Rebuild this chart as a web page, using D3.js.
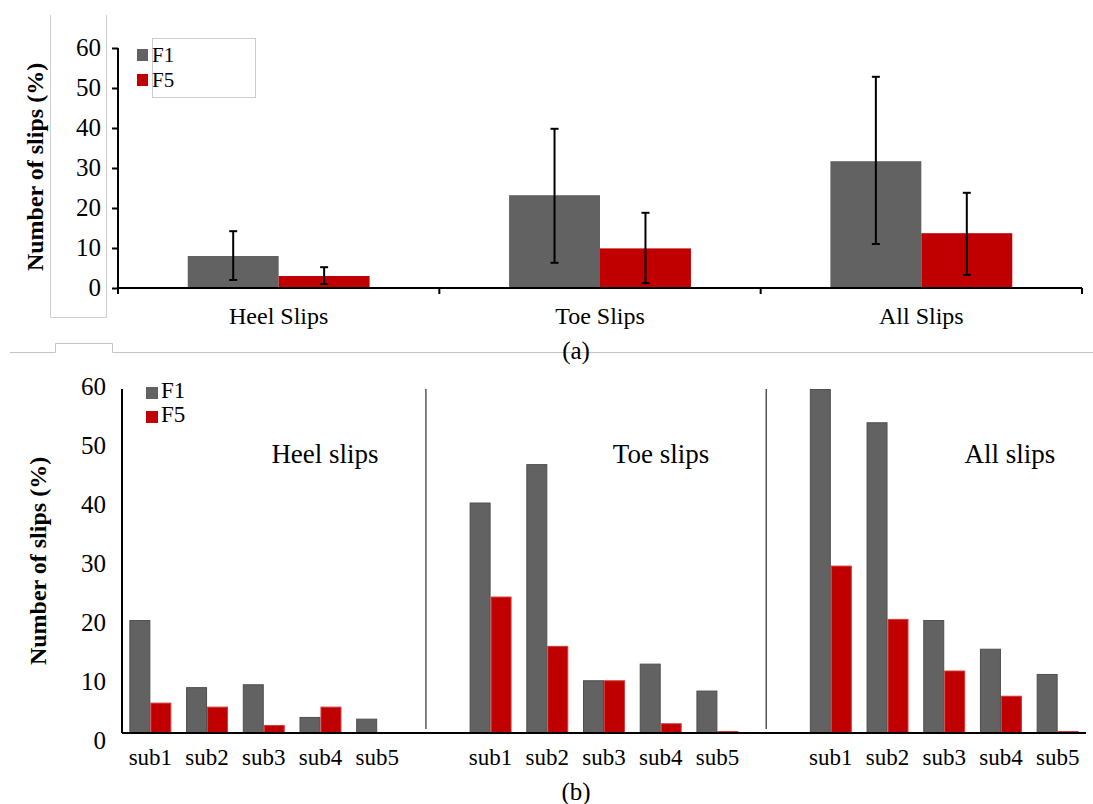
<!DOCTYPE html>
<html>
<head>
<meta charset="utf-8">
<script src="https://cdnjs.cloudflare.com/ajax/libs/d3/7.8.5/d3.min.js"></script>
<style>
  body { margin: 0; background: #fff; }
</style>
</head>
<body>
<svg id="chart" width="1093" height="804"></svg>
<script>
// ---- data, panel (a) ----
var topCategories = ["Heel Slips", "Toe Slips", "All Slips"];
var topF1 = [8, 23.2, 31.7];
var topF5 = [3, 9.9, 13.7];
var topF1Lo = [2, 6.3, 11];
var topF1Hi = [14.2, 39.8, 52.8];
var topF5Lo = [1, 1.2, 3.3];
var topF5Hi = [5.2, 18.8, 23.8];
var topTicks = [0, 10, 20, 30, 40, 50, 60];

// ---- data, panel (b) ----
var groups = ["Heel slips", "Toe slips", "All slips"];
var subjects = ["sub1", "sub2", "sub3", "sub4", "sub5"];
var heelF1 = [19.7, 8.0, 8.5, 2.8, 2.5];
var heelF5 = [5.3, 4.6, 1.4, 4.6, 0];
var toeF1 = [40.2, 46.9, 9.2, 12.1, 7.4];
var toeF5 = [23.8, 15.2, 9.2, 1.7, 0.2];
var allF1 = [60, 54.2, 19.7, 14.7, 10.3];
var allF5 = [29.2, 19.9, 10.9, 6.5, 0.2];
var bottomTicks = [0, 10, 20, 30, 40, 50, 60];

var series = ["F1", "F5"];
var colors = { F1: "#626262", F5: "#c00000" };
var serif = "'Liberation Serif', 'Times New Roman', Times, serif";

var svg = d3.select("#chart");

// faint frame leftovers from the composite figure
var frame = svg.append("g").attr("fill", "none").attr("stroke", "#cfcfcf").attr("stroke-width", 1);
frame.append("path").attr("d", "M50.5,15V317.5H106.5V15");
frame.append("path").attr("stroke", "#c4c4c4")
  .attr("d", "M10,352.5H55.5V343.5H112.5V352.5H1093");

// =================== panel (a) ===================
var a = { left: 118, right: 1082, top: 48, bottom: 288 };

var yA = d3.scaleLinear().domain([0, 60]).range([a.bottom, a.top]);
var xA = d3.scaleBand().domain(topCategories).range([a.left, a.right]).padding(0);
var groupW = xA.bandwidth() * 0.566;
var xA1 = d3.scaleBand().domain(series).range([0, groupW]);

var topRows = topCategories.map(function(c, i) {
  return [
    { cat: c, s: "F1", v: topF1[i], lo: topF1Lo[i], hi: topF1Hi[i] },
    { cat: c, s: "F5", v: topF5[i], lo: topF5Lo[i], hi: topF5Hi[i] }
  ];
});
var topBars = d3.merge(topRows);
function barX(d) { return xA(d.cat) + (xA.bandwidth() - groupW) / 2 + xA1(d.s); }

svg.append("g").selectAll("rect")
  .data(topBars)
  .enter().append("rect")
    .attr("x", barX)
    .attr("y", function(d) { return yA(d.v); })
    .attr("width", xA1.bandwidth())
    .attr("height", function(d) { return yA(0) - yA(d.v); })
    .attr("fill", function(d) { return colors[d.s]; });

// error bars
var err = svg.append("g").attr("stroke", "#000").attr("stroke-width", 2);
var eb = err.selectAll("g").data(topBars).enter().append("g")
  .attr("transform", function(d) { return "translate(" + (barX(d) + xA1.bandwidth() / 2) + ",0)"; });
eb.append("line").attr("x1", 0).attr("x2", 0)
  .attr("y1", function(d) { return yA(d.lo); })
  .attr("y2", function(d) { return yA(d.hi); });
eb.append("line").attr("x1", -4).attr("x2", 4)
  .attr("y1", function(d) { return yA(d.hi); }).attr("y2", function(d) { return yA(d.hi); });
eb.append("line").attr("x1", -4).attr("x2", 4)
  .attr("y1", function(d) { return yA(d.lo); }).attr("y2", function(d) { return yA(d.lo); });

// y axis (a)
var yAxisA = svg.append("g")
  .attr("transform", "translate(" + a.left + ",0)")
  .call(d3.axisLeft(yA).tickValues(topTicks).tickSize(6).tickPadding(11));
yAxisA.select(".domain").remove();
yAxisA.selectAll("line").attr("stroke", "#000").attr("stroke-width", 2);
yAxisA.selectAll("text").style("font-family", serif).style("font-size", "25px").attr("dy", "0.28em");
svg.append("line").attr("x1", a.left).attr("x2", a.left)
  .attr("y1", a.top).attr("y2", a.bottom + 6)
  .attr("stroke", "#000").attr("stroke-width", 2);

// x axis (a): boundary ticks, labels centred in band
svg.append("line").attr("x1", a.left).attr("x2", a.right)
  .attr("y1", a.bottom).attr("y2", a.bottom)
  .attr("stroke", "#000").attr("stroke-width", 2);
var bounds = topCategories.map(function(c) { return xA(c); }).concat([a.right]);
svg.append("g").selectAll("line").data(bounds.slice(1)).enter().append("line")
  .attr("x1", function(d) { return d; }).attr("x2", function(d) { return d; })
  .attr("y1", a.bottom).attr("y2", a.bottom + 6)
  .attr("stroke", "#000").attr("stroke-width", 2);
svg.append("g").selectAll("text").data(topCategories).enter().append("text")
  .attr("x", function(d) { return xA(d) + xA.bandwidth() / 2; })
  .attr("y", 324)
  .attr("text-anchor", "middle")
  .style("font-family", serif).style("font-size", "24px")
  .text(function(d) { return d; });

svg.append("text")
  .attr("transform", "translate(35,167) rotate(-90)")
  .attr("text-anchor", "middle").attr("dy", "0.35em")
  .style("font-family", serif).style("font-size", "24px").style("font-weight", "bold")
  .text("Number of slips (%)");

// legend (a)
svg.append("rect").attr("x", 152.5).attr("y", 38.5).attr("width", 103).attr("height", 59)
  .attr("fill", "none").attr("stroke", "#cccccc");
var legA = svg.append("g").selectAll("g").data(series).enter().append("g")
  .attr("transform", function(d, i) { return "translate(137," + (49 + i * 25) + ")"; });
legA.append("rect").attr("width", 11).attr("height", 12)
  .attr("fill", function(d) { return colors[d]; });
legA.append("text").attr("x", 15).attr("y", 13)
  .style("font-family", serif).style("font-size", "21px")
  .text(function(d) { return d; });

svg.append("text").attr("x", 576).attr("y", 359).attr("text-anchor", "middle")
  .style("font-family", serif).style("font-size", "25px").text("(a)");

// =================== panel (b) ===================
var b = { left: 122, right: 1086, top: 389, bottom: 733 };

// 17 slots: 5 subjects per group with one empty slot between groups
var slots = [];
groups.forEach(function(g, gi) {
  if (gi > 0) slots.push("gap" + gi);
  subjects.forEach(function(s) { slots.push(g + "|" + s); });
});

var yB = d3.scaleLinear().domain([0, 60]).range([b.bottom, b.top]);
var yBLabel = d3.scaleLinear().domain([0, 60]).range([740, 386]);
var xB = d3.scaleBand().domain(slots).range([b.left, b.right]).padding(0);
var pairW = xB.bandwidth() * 0.74;
var xB1 = d3.scaleBand().domain(series).range([0, pairW]);

var groupF1 = { "Heel slips": heelF1, "Toe slips": toeF1, "All slips": allF1 };
var groupF5 = { "Heel slips": heelF5, "Toe slips": toeF5, "All slips": allF5 };
var bottomBars = [];
groups.forEach(function(g) {
  subjects.forEach(function(s, i) {
    bottomBars.push({ slot: g + "|" + s, s: "F1", v: groupF1[g][i] });
    bottomBars.push({ slot: g + "|" + s, s: "F5", v: groupF5[g][i] });
  });
});

svg.append("g").selectAll("rect")
  .data(bottomBars.filter(function(d) { return d.v > 0; }))
  .enter().append("rect")
    .attr("x", function(d) { return xB(d.slot) + (xB.bandwidth() - pairW) / 2 + xB1(d.s) + 0.5; })
    .attr("y", function(d) { return Math.min(yB(d.v), yB(0) - 2) + 0.5; })
    .attr("width", xB1.bandwidth() - 1)
    .attr("height", function(d) { return Math.max(1, yB(0) - yB(d.v) - 1); })
    .attr("fill", function(d) { return colors[d.s]; })
    .attr("stroke", function(d) { return d.s == "F1" ? "#4e4e4e" : "#d23a3a"; })
    .attr("stroke-width", 1);

// dividers between the three groups
svg.append("g").selectAll("line").data(["gap1", "gap2"]).enter().append("line")
  .attr("x1", function(d) { return xB(d) + xB.bandwidth() * 0.36; })
  .attr("x2", function(d) { return xB(d) + xB.bandwidth() * 0.36; })
  .attr("y1", b.top).attr("y2", b.bottom - 4)
  .attr("stroke", "#000").attr("stroke-width", 1);

// axes (b)
svg.append("line").attr("x1", b.left).attr("x2", b.left)
  .attr("y1", b.top).attr("y2", b.bottom)
  .attr("stroke", "#000").attr("stroke-width", 2);
svg.append("line").attr("x1", b.left).attr("x2", b.right)
  .attr("y1", b.bottom).attr("y2", b.bottom)
  .attr("stroke", "#000").attr("stroke-width", 2);

var yAxisB = svg.append("g")
  .attr("transform", "translate(" + b.left + ",0)")
  .call(d3.axisLeft(yBLabel).tickValues(bottomTicks).tickSize(0).tickPadding(16));
yAxisB.select(".domain").remove();
yAxisB.selectAll("text").style("font-family", serif).style("font-size", "25px").attr("dy", "0.32em");

var xAxisB = svg.append("g")
  .attr("transform", "translate(0," + b.bottom + ")")
  .call(d3.axisBottom(xB)
    .tickValues(slots.filter(function(d) { return d.indexOf("|") > 0; }))
    .tickFormat(function(d) { return d.split("|")[1]; })
    .tickSize(0).tickPadding(20));
xAxisB.select(".domain").remove();
xAxisB.selectAll("text").style("font-family", serif).style("font-size", "23px").attr("dy", "0.5em");

// group titles
svg.append("g").selectAll("text").data(groups).enter().append("text")
  .attr("x", function(g, i) { return [325, 661, 1010][i]; })
  .attr("y", 463)
  .attr("text-anchor", "middle")
  .style("font-family", serif).style("font-size", "27px")
  .text(function(d) { return d; });

svg.append("text")
  .attr("transform", "translate(38,561) rotate(-90)")
  .attr("text-anchor", "middle").attr("dy", "0.35em")
  .style("font-family", serif).style("font-size", "24px").style("font-weight", "bold")
  .text("Number of slips (%)");

// legend (b)
var legB = svg.append("g").selectAll("g").data(series).enter().append("g")
  .attr("transform", function(d, i) { return "translate(146," + (387 + i * 24) + ")"; });
legB.append("rect").attr("width", 12).attr("height", 12)
  .attr("fill", function(d) { return colors[d]; });
legB.append("text").attr("x", 15).attr("y", 11)
  .style("font-family", serif).style("font-size", "23px")
  .text(function(d) { return d; });

svg.append("text").attr("x", 576).attr("y", 800).attr("text-anchor", "middle")
  .style("font-family", serif).style("font-size", "25px").text("(b)");
</script>
</body>
</html>
